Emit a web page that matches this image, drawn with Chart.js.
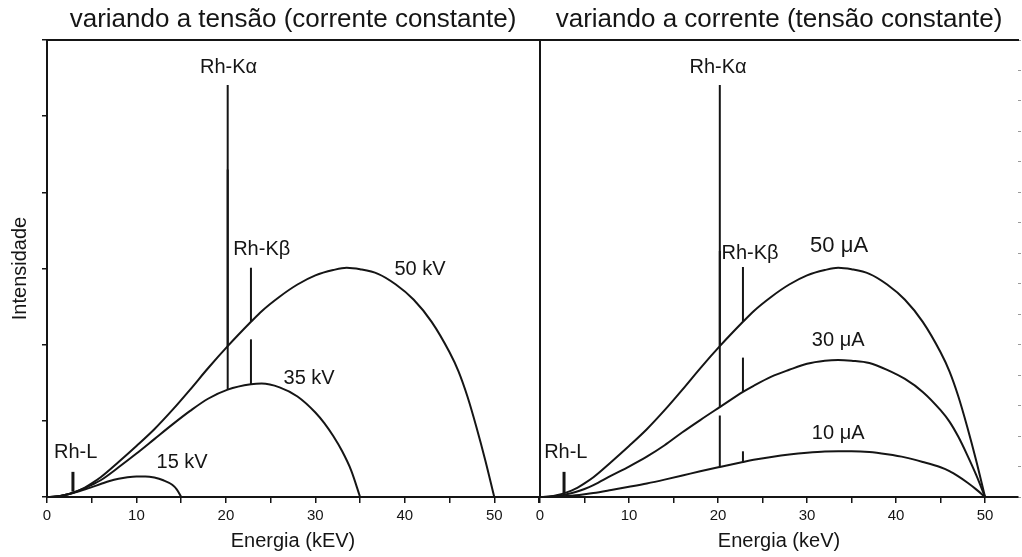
<!DOCTYPE html>
<html>
<head>
<meta charset="utf-8">
<script src="https://cdn.jsdelivr.net/npm/chart.js@4"></script>
<style>
    html, body { margin: 0; padding: 0; background: #fff; width: 1022px; height: 557px; overflow: hidden; }
    #boxTensao { position: absolute; left: 0; top: 0; width: 543px; height: 557px; }
    #boxCorrente { position: absolute; left: 520px; top: 0; width: 502px; height: 557px; }
</style>
</head>
<body>
<div id="boxTensao"><canvas id="graficoTensao"></canvas></div>
<div id="boxCorrente"><canvas id="graficoCorrente"></canvas></div>
<script>
// ---- dados ----
// painel esquerdo: variando a tensão
const energia50 = [0, 1, 2, 3, 4, 5, 6, 8, 10, 12, 14, 16, 18, 20.2, 22.8, 24, 26, 28, 30, 32, 33.5, 35, 37, 39, 41, 43, 45, 46, 47, 48, 49, 50];
const int50kV = [0, 0.005, 0.025, 0.06, 0.11, 0.18, 0.26, 0.46, 0.67, 0.89, 1.14, 1.41, 1.69, 1.98, 2.3, 2.44, 2.63, 2.79, 2.91, 2.98, 3.01, 2.99, 2.93, 2.79, 2.59, 2.3, 1.9, 1.65, 1.32, 0.92, 0.48, 0];
const energia35 = [0, 1, 2, 3, 4, 5, 6, 8, 10, 12, 14, 16, 18, 20.2, 22.8, 24, 26, 28, 30, 31, 32, 33, 34, 35];
const int35kV = [0, 0.005, 0.025, 0.06, 0.105, 0.16, 0.22, 0.39, 0.57, 0.76, 0.95, 1.13, 1.29, 1.41, 1.48, 1.49, 1.44, 1.32, 1.11, 0.97, 0.8, 0.6, 0.35, 0];
const energia15 = [0, 1, 2, 3, 4, 5, 6, 7, 8, 9, 10, 11, 12, 13, 14, 14.5, 15];
const int15kV = [0, 0.005, 0.025, 0.055, 0.09, 0.13, 0.17, 0.21, 0.24, 0.26, 0.27, 0.27, 0.255, 0.22, 0.16, 0.1, 0];

// linhas características (Rh-L, Kα 50kV, Kα 35kV, Kβ 50kV, Kβ 35kV)
const picosTensaoE = [2.9, 20.2, 20.2, 22.8, 22.8];
const picosTensaoBase = [0.07, 1.98, 1.41, 2.3, 1.48];
const picosTensaoTopo = [0.33, 5.41, 4.3, 3.01, 2.07];

// painel direito: variando a corrente
const energiaCorrente = [0, 1, 2, 3, 4, 5, 6, 8, 10, 12, 14, 16, 18, 20.2, 22.8, 24, 26, 28, 30, 32, 33.5, 35, 37, 39, 41, 43, 45, 46, 47, 48, 49, 50];
const int50uA = [0, 0.005, 0.025, 0.06, 0.11, 0.18, 0.26, 0.46, 0.67, 0.89, 1.14, 1.41, 1.69, 1.98, 2.3, 2.44, 2.63, 2.79, 2.91, 2.98, 3.01, 2.99, 2.93, 2.79, 2.59, 2.3, 1.9, 1.65, 1.32, 0.92, 0.48, 0];
const int30uA = [0, 0.003, 0.015, 0.036, 0.066, 0.105, 0.155, 0.28, 0.4, 0.53, 0.68, 0.85, 1.01, 1.18, 1.38, 1.46, 1.58, 1.67, 1.75, 1.79, 1.8, 1.79, 1.76, 1.67, 1.55, 1.38, 1.14, 0.99, 0.79, 0.55, 0.29, 0];
const int10uA = [0, 0.001, 0.005, 0.012, 0.022, 0.036, 0.052, 0.092, 0.134, 0.178, 0.228, 0.282, 0.338, 0.395, 0.46, 0.488, 0.526, 0.558, 0.582, 0.598, 0.6, 0.6, 0.59, 0.56, 0.52, 0.46, 0.39, 0.34, 0.27, 0.19, 0.1, 0];

const picosCorrenteE = [2.7, 20.2, 20.2, 20.2, 22.8, 22.8, 22.8];
const picosCorrenteBase = [0.05, 1.98, 1.18, 0.395, 2.3, 1.38, 0.46];
const picosCorrenteTopo = [0.33, 5.41, 3.23, 1.07, 3.02, 1.83, 0.6];

// rótulos
const rotulosTensao = ["Rh-K\u03B1", "Rh-K\u03B2", "50 kV", "35 kV", "15 kV", "Rh-L"];
const rotulosTensaoX = [20.3, 24.0, 41.7, 29.3, 15.1, 3.2];
const rotulosTensaoY = [5.64, 3.25, 2.99, 1.55, 0.45, 0.59];
const rotulosTensaoTam = [20, 20, 20, 20, 20, 20];

const rotulosCorrente = ["Rh-K\u03B1", "Rh-K\u03B2", "50 \u03BCA", "30 \u03BCA", "10 \u03BCA", "Rh-L"];
const rotulosCorrenteX = [20.0, 23.6, 33.6, 33.5, 33.5, 2.9];
const rotulosCorrenteY = [5.64, 3.2, 3.29, 2.05, 0.83, 0.59];
const rotulosCorrenteTam = [20, 20, 22, 20, 20, 20];

const FONTE = "'Liberation Sans', Arial, sans-serif";
const COR = "#151515";

function curva(xs, ys) {
    return {
        data: xs.map((x, i) => ({ x: x, y: ys[i] })),
        borderColor: COR,
        borderWidth: 2,
        pointRadius: 0,
        fill: false,
        cubicInterpolationMode: "monotone"
    };
}

function picos(es, bases, topos) {
    return es.map((e, i) => ({
        data: [{ x: e, y: bases[i] }, { x: e, y: topos[i] }],
        borderColor: COR,
        borderWidth: i === 0 ? 3 : 2,
        pointRadius: 0,
        fill: false
    }));
}

function pluginRotulos(textos, xs, ys, tams) {
    return {
        id: "rotulos",
        afterDatasetsDraw(chart) {
            const ctx = chart.ctx;
            const sx = chart.scales.x;
            const sy = chart.scales.y;
            ctx.save();
            ctx.fillStyle = COR;
            ctx.textAlign = "center";
            ctx.textBaseline = "middle";
            textos.forEach((t, i) => {
                ctx.font = tams[i] + "px " + FONTE;
                ctx.fillText(t, sx.getPixelForValue(xs[i]), sy.getPixelForValue(ys[i]));
            });
            ctx.restore();
        }
    };
}

function escalas(opc) {
    const s = {
        x: {
            type: "linear", position: "bottom", min: 0, max: opc.xmax,
            ticks: {
                stepSize: 5, includeBounds: false, autoSkip: false, maxRotation: 0, padding: 4,
                color: COR, font: { family: FONTE, size: 15 },
                callback: v => (v % 10 === 0 && v <= 50) ? String(v) : ""
            },
            grid: { drawOnChartArea: false, tickLength: 6, color: COR, lineWidth: 1.5 },
            border: { color: COR, width: 2 },
            title: { display: true, text: opc.tituloX, color: COR, font: { family: FONTE, size: 20 }, padding: { top: 0, bottom: 4 } },
            afterFit: sc => { sc.height = 60; }
        },
        xTopo: {
            type: "linear", position: "top", min: 0, max: opc.xmax,
            ticks: { display: false },
            grid: { display: false },
            border: { display: true, color: COR, width: 2 },
            title: { display: true, text: opc.titulo, color: COR, font: { family: FONTE, size: 26 }, padding: { top: 4, bottom: 0 } },
            afterFit: sc => { sc.height = 40; }
        },
        y: {
            type: "linear", position: "left", min: 0, max: 6,
            ticks: { display: false, stepSize: 1 },
            grid: { drawOnChartArea: false, drawTicks: opc.ticksY, tickLength: 5, color: COR, lineWidth: 1.5 },
            border: { color: COR, width: 2 },
            title: { display: !!opc.tituloY, text: opc.tituloY || "", color: COR, font: { family: FONTE, size: 20 }, padding: { top: 8, bottom: 0 } },
            afterFit: sc => { sc.width = opc.larguraY; }
        }
    };
    if (opc.eixoDireito) {
        s.yDir = {
            type: "linear", position: "right", min: 0, max: 7.5,
            ticks: { display: false, stepSize: 0.5 },
            grid: { drawOnChartArea: false, tickLength: 3, color: "#9a9a9a", lineWidth: 1 },
            border: { display: false },
            afterFit: sc => { sc.width = 4; }
        };
    }
    return s;
}

function opcoes(opc) {
    return {
        responsive: true,
        maintainAspectRatio: false,
        animation: false,
        layout: { padding: 0 },
        plugins: { legend: { display: false }, tooltip: { enabled: false } },
        scales: escalas(opc)
    };
}

window.addEventListener("DOMContentLoaded", function () {
    new Chart(document.getElementById("graficoTensao"), {
        type: "line",
        data: {
            datasets: [
                curva(energia50, int50kV),
                curva(energia35, int35kV),
                curva(energia15, int15kV)
            ].concat(picos(picosTensaoE, picosTensaoBase, picosTensaoTopo))
        },
        options: opcoes({
            xmax: 55,
            titulo: "variando a tensão (corrente constante)",
            tituloX: "Energia (kEV)",
            tituloY: "Intensidade",
            ticksY: true,
            larguraY: 47
        }),
        plugins: [pluginRotulos(rotulosTensao, rotulosTensaoX, rotulosTensaoY, rotulosTensaoTam)]
    });

    new Chart(document.getElementById("graficoCorrente"), {
        type: "line",
        data: {
            datasets: [
                curva(energiaCorrente, int50uA),
                curva(energiaCorrente, int30uA),
                curva(energiaCorrente, int10uA)
            ].concat(picos(picosCorrenteE, picosCorrenteBase, picosCorrenteTopo))
        },
        options: opcoes({
            xmax: 53.7,
            titulo: "variando a corrente (tensão constante)",
            tituloX: "Energia (keV)",
            tituloY: "",
            ticksY: false,
            larguraY: 20,
            eixoDireito: true
        }),
        plugins: [pluginRotulos(rotulosCorrente, rotulosCorrenteX, rotulosCorrenteY, rotulosCorrenteTam)]
    });
});
</script>
</body>
</html>
